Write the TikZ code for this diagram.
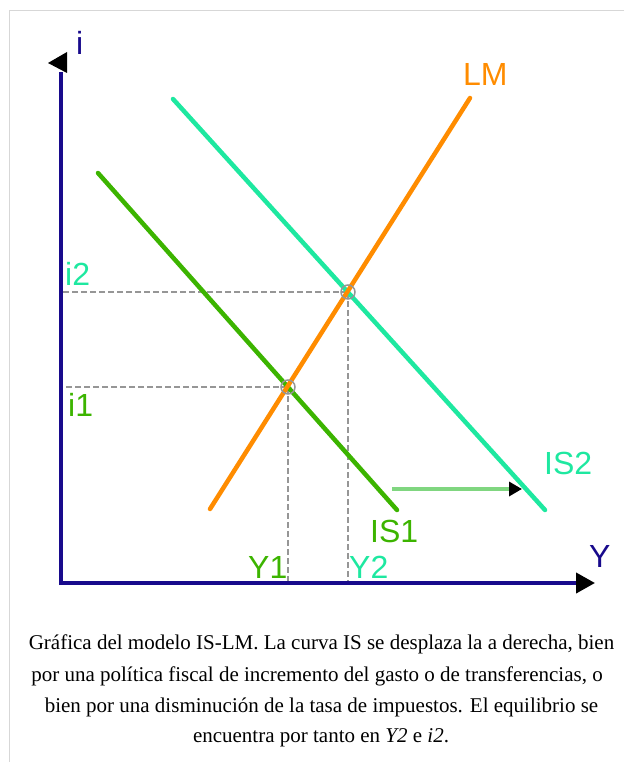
\documentclass[tikz,border=0pt]{standalone}
\usepackage{fontspec}
\setmainfont{Liberation Serif}
\newfontfamily\lblfont{Liberation Sans}
\usetikzlibrary{arrows.meta}
\definecolor{axisblue}{RGB}{24,10,140}
\definecolor{lmorange}{RGB}{255,140,0}
\definecolor{isaqua}{RGB}{30,232,160}
\definecolor{isgreen}{RGB}{60,180,0}
\definecolor{shiftgreen}{RGB}{128,214,128}
\definecolor{dashgray}{RGB}{150,150,150}
\definecolor{framegray}{RGB}{215,215,215}
\begin{document}
\begin{tikzpicture}[x=1pt,y=-1pt,
  curve/.style={line width=4.5pt,line cap=round},
  axisline/.style={axisblue,line width=4pt},
  guide/.style={dashgray,line width=1.4pt,dash pattern=on 6pt off 3pt},
  eq/.style={circle,draw=dashgray,line width=1.5pt,minimum size=14pt,inner sep=0pt},
  lbl/.style={font=\lblfont\fontsize{32}{38}\selectfont,inner sep=0pt,anchor=base west},
  captext/.style={font=\fontsize{21}{25}\selectfont,inner sep=0pt,anchor=base}]
\useasboundingbox (0,0) rectangle (624,762);
\draw[framegray,line width=1.3pt] (624,10.5) -- (9.5,10.5) -- (9.5,762);
% key points
\coordinate (LMlo) at (210,509); \coordinate (LMhi) at (470,98);
\coordinate (ISaHi) at (98,173); \coordinate (ISaLo) at (397,510);
\coordinate (ISbHi) at (173,99); \coordinate (ISbLo) at (545,510);
\coordinate (O) at (61,583); \coordinate (ytop) at (61,72);
\coordinate (xstart) at (59,583); \coordinate (xend) at (595,583);
\coordinate (e1) at (288,387); \coordinate (e2) at (348,292);
% guides
\draw[guide] (e1) -- (e1 -| O);
\draw[guide] (e2) -- (e2 -| O);
\draw[guide] (e1) -- (e1 |- O);
\draw[guide] (e2) -- (e2 |- O);
% axes
\draw[axisline] (61,585) -- (ytop);
\fill (48,63) -- (67,52) -- (67,73) -- cycle;
\draw[axisline,-{Triangle[length=19pt,width=20pt,color=black]}] (xstart) -- (xend);
% curves
\draw[curve,isaqua] (ISbHi) -- (ISbLo);
\draw[curve,isgreen] (ISaHi) -- (ISaLo);
\draw[curve,lmorange] (LMlo) -- (LMhi);
% equilibria
\node[eq] (E1) at (e1) {};
\node[eq] (E2) at (e2) {};
% shift arrow
\coordinate (sa) at (392,489); \coordinate (sb) at (522,489);
\draw[shiftgreen,line width=3.5pt,-{Triangle[length=13pt,width=14pt,color=black]}] (sa) -- (sb);
% labels
\node[lbl,axisblue] (ilbl) at (76,55) {i};
\node[lbl,axisblue] (Ylbl) at (589,567) {Y};
\node[lbl,lmorange] (LMlbl) at (463,86) {LM};
\node[lbl,isaqua] (IS2lbl) at (544,474) {IS2};
\node[lbl,isgreen] (IS1lbl) at (370,542) {IS1};
\node[lbl,isgreen] (Y1lbl) at (248,578) {Y1};
\node[lbl,isaqua] (Y2lbl) at (349,578) {Y2};
\node[lbl,isaqua] (i2lbl) at (65,285) {i2};
\node[lbl,isgreen] (i1lbl) at (68,416) {i1};
% caption
\node[captext] (c1) at (321.5,649) {Gráfica del modelo IS-LM. La curva IS se desplaza la a derecha, bien};
\node[captext] (c2) at (317,681) {por una política fiscal de incremento del gasto o de transferencias, o};
\node[captext] (c3) at (321.5,712) {bien por una disminución de la tasa de impuestos. El equilibrio se};
\node[captext] (c4) at (321,742) {encuentra por tanto en \textit{Y2} e \textit{i2}.};
\end{tikzpicture}
\end{document}
